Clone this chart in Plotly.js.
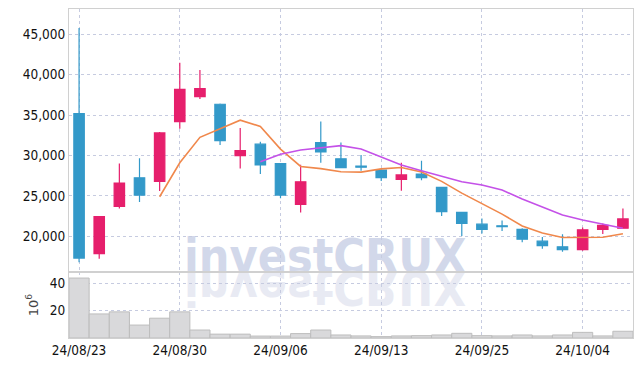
<!DOCTYPE html>
<html>
<head>
<meta charset="utf-8">
<script src="https://cdn.plot.ly/plotly-3.0.1.min.js"></script>
<style>
html,body{margin:0;padding:0;background:#fff;}
#chart{width:643px;height:366px;}
</style>
</head>
<body>
<div id="chart"></div>
<script>
// ---- data ----
const dates = ["24/08/23","24/08/26","24/08/27","24/08/28","24/08/29","24/08/30",
  "24/09/02","24/09/03","24/09/04","24/09/05","24/09/06","24/09/09","24/09/10",
  "24/09/11","24/09/12","24/09/13","24/09/19","24/09/20","24/09/23","24/09/24",
  "24/09/25","24/09/26","24/09/27","24/09/30","24/10/02","24/10/04","24/10/07","24/10/08"];
const openP  = [35200,17850,23700,27250,26800,34200,37300,36350,30000,31400,29000,23950,31600,
  29600,28700,28200,27050,27700,26050,22950,21500,21300,20850,19400,18700,18350,20850,21000];
const highP  = [45800,22430,29000,29650,32900,41500,40600,36450,33400,31700,29000,28850,34200,
  31600,30050,28300,29100,29350,26100,22950,22200,21950,21000,19900,20250,21100,21600,23450];
const lowP   = [16800,17230,23450,24250,25600,33300,37000,31300,28400,27700,24700,22950,29100,
  28450,28100,26850,25650,26950,22500,20050,20350,20650,19250,18450,18100,18200,20300,21000];
const closeP = [17300,22430,26600,25100,32800,38200,38300,31850,30600,28850,25100,26750,30450,
  28500,28550,27250,27600,27250,23050,21600,20850,21200,19650,18850,18350,20800,21350,22150];
// 5-day moving average line (starts at 5th day)
const ma5 = [null,null,null,null,24900,29100,32250,33300,34380,33600,30800,28650,28380,
  28000,27950,28350,28520,27950,26800,25340,24080,22750,21280,20420,19850,19850,19880,20320];
// 10-day moving average line (starts at 10th day)
const ma10 = [null,null,null,null,null,null,null,null,null,29240,30150,30680,30970,
  31220,30810,29780,28830,28120,27460,26760,26350,25730,24620,23660,22640,22020,21490,20990];
// volume, millions of shares
const volume = [43.6,17.5,19.0,9.4,14.4,19.0,5.8,2.8,2.8,1.4,1.4,3.2,5.8,
  2.2,1.5,1.0,1.5,1.7,2.2,3.4,1.7,1.5,2.2,1.5,2.2,4.1,1.5,4.9];
const tickDates = ["24/08/23","24/08/30","24/09/06","24/09/13","24/09/25","24/10/04"];
const priceTicks = [20000,25000,30000,35000,40000,45000];
const volTicks = [20,40];
const watermark = "investCRUX";

// ---- styling ----
const UP = "#e61f6c", DOWN = "#3399c9";
const GRID = "#c6cbe0", BORDER = "#d0d0d0";
const TICKFONT = {family:"'DejaVu Sans Condensed','DejaVu Sans',sans-serif", size:13.5, color:"#111"};
const WMFONT = "'DejaVu Sans Condensed','DejaVu Sans',sans-serif";
const PRICE_DOMAIN = [0.2006, 1];
const VOL_DOMAIN = [0, 0.2006];

const traces = [
  {type:"scatter", mode:"lines", x:dates, y:ma5, xaxis:"x2", yaxis:"y2",
   line:{color:"#f0884c", width:1.6}, hoverinfo:"skip", connectgaps:false},
  {type:"scatter", mode:"lines", x:dates, y:ma10, xaxis:"x2", yaxis:"y2",
   line:{color:"#c451e8", width:1.6}, hoverinfo:"skip", connectgaps:false},
  {type:"candlestick", x:dates, open:openP, high:highP, low:lowP, close:closeP,
   xaxis:"x2", yaxis:"y2", whiskerwidth:0,
   increasing:{line:{color:UP, width:1.2}, fillcolor:UP},
   decreasing:{line:{color:DOWN, width:1.2}, fillcolor:DOWN},
   hoverinfo:"skip"},
  {type:"bar", x:dates, y:volume, xaxis:"x", yaxis:"y",
   marker:{color:"#d9d9db", line:{color:"#bdbdbd", width:1}}, hoverinfo:"skip"}
];

const commonX = {
  type:"category", range:[-0.5, dates.length-0.5], tickmode:"array", tickvals:tickDates,
  showgrid:true, gridcolor:GRID, griddash:"dot", gridwidth:1,
  showline:true, mirror:true, linecolor:BORDER, linewidth:1,
  ticks:"", zeroline:false, fixedrange:true, tickfont:TICKFONT
};

const layout = {
  width:643, height:366,
  margin:{l:69, r:10, t:9, b:28},
  paper_bgcolor:"#fff", plot_bgcolor:"rgba(0,0,0,0)",
  showlegend:false, bargap:0, boxgap:0.26,
  xaxis:Object.assign({}, commonX, {anchor:"y", showticklabels:true}),
  xaxis2:Object.assign({}, commonX, {anchor:"y2", matches:"x", showticklabels:false,
    rangeslider:{visible:false}}),
  yaxis:{domain:VOL_DOMAIN, range:[0,48], tickmode:"array", tickvals:volTicks,
    showgrid:true, gridcolor:GRID, griddash:"dot", showline:true, mirror:true,
    linecolor:BORDER, zeroline:false, ticks:"", tickfont:TICKFONT, fixedrange:true,
    title:{text:"10<sup>6</sup>", font:{family:"'DejaVu Sans',sans-serif", size:13, color:"#444"}, standoff:8}},
  yaxis2:{domain:PRICE_DOMAIN, range:[15580,48140], tickmode:"array", tickvals:priceTicks,
    tickformat:",d", showgrid:true, gridcolor:GRID, griddash:"dot", showline:true, mirror:true,
    linecolor:BORDER, zeroline:false, ticks:"", tickfont:TICKFONT, fixedrange:true},
  annotations:[
    {text:watermark, xref:"paper", yref:"paper", x:0.4545, y:PRICE_DOMAIN[0], xanchor:"center",
     yanchor:"bottom", yshift:-14, showarrow:false,
     font:{family:WMFONT, size:48, color:"#d2d8ea", weight:"bold"}},
    {text:watermark, xref:"paper", yref:"paper", x:0.4545, y:PRICE_DOMAIN[0], xanchor:"center",
     yanchor:"bottom", yshift:-14, showarrow:false,
     font:{family:WMFONT, size:48, color:"#e8eaf3", weight:"bold"}}
  ]
};

const gd = document.getElementById("chart");
Plotly.newPlot(gd, traces, layout, {displayModeBar:false, staticPlot:true}).then(function(){
  // put the watermark beneath grid and marks; mirror the second copy as a reflection
  const ya = gd._fullLayout.yaxis2;
  const yMirror = ya._offset + ya._length;
  const below = gd.querySelector(".layer-below") || gd.querySelector(".main-svg");
  const anns = gd.querySelectorAll(".annotation");
  if (anns.length === 2 && below) {
    below.appendChild(anns[0]);
    const wrap = document.createElementNS("http://www.w3.org/2000/svg","g");
    wrap.setAttribute("transform","matrix(1,0,0,-1,0,"+(2*yMirror)+")");
    below.appendChild(wrap);
    wrap.appendChild(anns[1]);
  }
});
</script>
</body>
</html>
